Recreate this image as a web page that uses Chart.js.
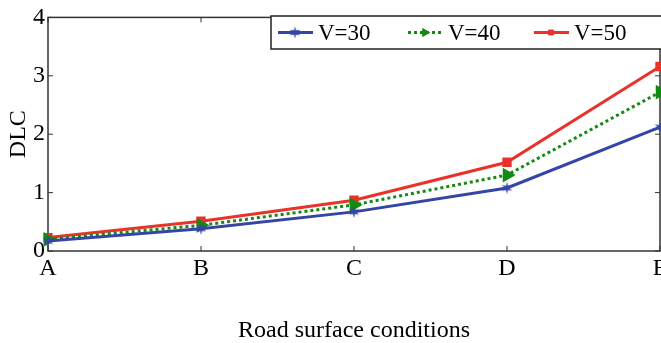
<!DOCTYPE html>
<html>
<head>
<meta charset="utf-8">
<script src="https://cdn.jsdelivr.net/npm/chart.js@4"></script>
<style>
  html, body { margin: 0; padding: 0; overflow: hidden; background: #fff; }
  #wrap { width: 700px; height: 343px; }
</style>
</head>
<body>
<div id="wrap"><canvas id="linechart" width="700" height="343"></canvas></div>
<script>
let labels = ['A', 'B', 'C', 'D', 'E'];
let v30 = [0.17, 0.38, 0.67, 1.08, 2.12];
let v40 = [0.20, 0.44, 0.79, 1.30, 2.72];
let v50 = [0.23, 0.51, 0.87, 1.52, 3.16];
let yTicks = [0, 1, 2, 3, 4];

const font = { family: '"Liberation Serif", "Times New Roman", serif', size: 24 };
const blue = '#3545a5', green = '#138a13', red = '#e8332b';

// small filled star used as the V=30 marker
function starMarker(color) {
   const c = document.createElement('canvas');
   c.width = 13; c.height = 13;
   const g = c.getContext('2d');
   g.fillStyle = color;
   g.beginPath();
   for (let i = 0; i < 12; i++) {
      let r = i % 2 === 0 ? 6 : 2.3;
      let ang = -Math.PI / 2 + i * Math.PI / 6;
      let px = 6.5 + r * Math.cos(ang), py = 6.5 + r * Math.sin(ang);
      if (i === 0) g.moveTo(px, py); else g.lineTo(px, py);
   }
   g.closePath();
   g.fill();
   return c;
}
const blueStar = starMarker(blue);

// box around the plot with ticks pointing inward
const frame = {
   id: 'frame',
   beforeDatasetsDraw(chart) {
      const { ctx, chartArea: a, scales } = chart;
      ctx.save();
      ctx.strokeStyle = '#333';
      ctx.lineWidth = 1.5;
      ctx.strokeRect(a.left, a.top, a.right - a.left, a.bottom - a.top);
      ctx.lineWidth = 1;
      ctx.beginPath();
      yTicks.forEach(function(v) {
         let y = scales.y.getPixelForValue(v);
         ctx.moveTo(a.left, y); ctx.lineTo(a.left + 5, y);
         ctx.moveTo(a.right, y); ctx.lineTo(a.right - 5, y);
      });
      labels.forEach(function(l, i) {
         let x = scales.x.getPixelForValue(i);
         ctx.moveTo(x, a.bottom); ctx.lineTo(x, a.bottom - 5);
         ctx.moveTo(x, a.top); ctx.lineTo(x, a.top + 5);
      });
      ctx.stroke();
      ctx.restore();
   }
};

// boxed legend, line + marker + label
const boxLegend = {
   id: 'boxLegend',
   afterDraw(chart) {
      const ctx = chart.ctx;
      const x0 = 271, y0 = 16, w = 400, h = 33;
      const starts = [278, 408, 534];
      ctx.save();
      ctx.fillStyle = '#fff';
      ctx.fillRect(x0, y0, w, h);
      ctx.strokeStyle = '#222';
      ctx.lineWidth = 1.5;
      ctx.strokeRect(x0, y0, w, h);
      chart.data.datasets.forEach(function(ds, i) {
         let sx = starts[i], cy = y0 + h / 2;
         ctx.strokeStyle = ds.borderColor;
         ctx.fillStyle = ds.borderColor;
         ctx.lineWidth = ds.borderWidth;
         ctx.setLineDash(ds.borderDash || []);
         ctx.beginPath();
         ctx.moveTo(sx, cy); ctx.lineTo(sx + 35, cy);
         ctx.stroke();
         ctx.setLineDash([]);
         ctx.lineWidth = 1;
         Chart.helpers.drawPoint(ctx, {
            pointStyle: ds.pointStyle, rotation: ds.pointRotation || 0,
            radius: ds.pointRadius - 1, borderWidth: 1
         }, sx + 17, cy);
         ctx.fillStyle = '#000';
         ctx.font = '23px ' + font.family;
         ctx.textBaseline = 'middle';
         ctx.fillText(ds.label, sx + 40, cy + 1);
      });
      ctx.restore();
   }
};

function style(color, shape, extra) {
   return Object.assign({
      borderColor: color, backgroundColor: color,
      pointBackgroundColor: color, pointBorderColor: color,
      borderWidth: 3, pointStyle: shape, pointRadius: 4,
      tension: 0, fill: false, clip: false
   }, extra || {});
}

new Chart(document.getElementById('linechart'), {
   type: 'line',
   data: {
      labels: labels,
      datasets: [
         Object.assign({ label: 'V=30', data: v30 }, style(blue, blueStar, { pointRadius: 6 })),
         Object.assign({ label: 'V=40', data: v40 }, style(green, 'triangle', { borderDash: [3, 3], pointRotation: 90, pointRadius: 5.5 })),
         Object.assign({ label: 'V=50', data: v50 }, style(red, 'rect', { pointRadius: 4.5 }))
      ]
   },
   options: {
      responsive: false,
      animation: false,
      layout: { padding: { top: 17, right: 40, left: 0, bottom: 0 } },
      plugins: { legend: { display: false }, tooltip: { enabled: false } },
      scales: {
         x: {
            grid: { display: false, drawTicks: false },
            border: { display: false },
            ticks: { font: font, color: '#000', padding: 3, maxRotation: 0, autoSkip: false },
            title: { display: true, text: 'Road surface conditions', font: font, color: '#000', padding: { top: 10, bottom: -2 } },
            afterFit(scale) { scale.height = 92; }
         },
         y: {
            min: 0, max: 4,
            grid: { display: false, drawTicks: false },
            border: { display: false },
            ticks: { font: font, color: '#000', padding: 3, stepSize: 1 },
            title: { display: true, text: 'DLC', font: font, color: '#000', padding: { top: 4, bottom: 0 } },
            afterFit(scale) { scale.width = 48; }
         }
      }
   },
   plugins: [frame, boxLegend]
});
</script>
</body>
</html>
